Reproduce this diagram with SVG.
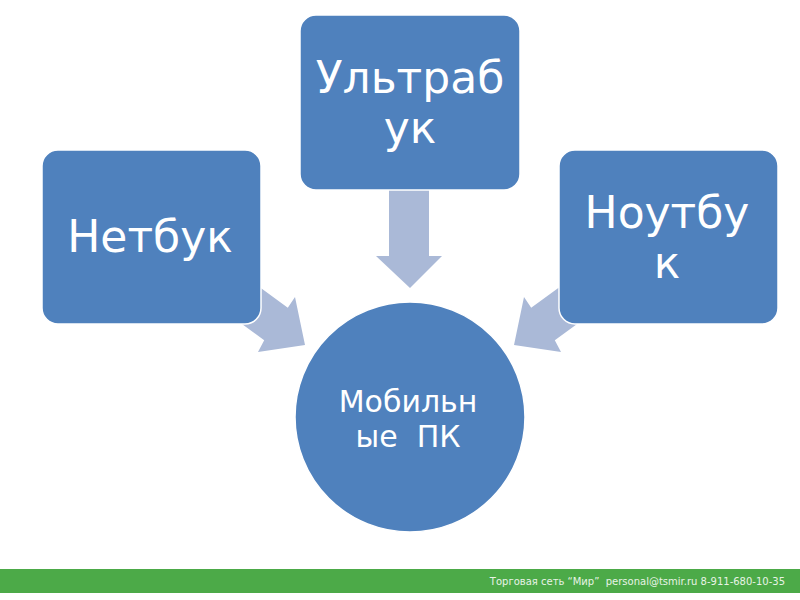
<svg xmlns="http://www.w3.org/2000/svg" width="800" height="600" viewBox="0 0 800 600">
<style>
.box{fill:#4f81bd;stroke:#ffffff;stroke-width:1.5}
.arrow{fill:#aab9d7}
.t{font-family:"DejaVu Sans",Verdana,sans-serif;fill:#ffffff;text-anchor:middle}
.big{font-size:44px}
.mid{font-size:30px}
.foot{font-family:"DejaVu Sans",sans-serif;font-size:10px;fill:#e8f3e6;text-anchor:end}
</style>
<defs>
<polygon id="diag" points="247,278 287.8,307.8 295,297 305,345 258,352 264.2,340.2 223.7,310.8"/>
</defs>
<rect width="800" height="600" fill="#ffffff"/>
<g id="connectors">
<polygon class="arrow" points="389,190 429,190 429,256 442,256 410,288 376,256 389,256"/>
<use href="#diag" class="arrow"/>
<use href="#diag" class="arrow" transform="translate(819,0) scale(-1,1)"/>
</g>
<g id="netbook">
<rect class="box" x="42" y="150" width="219" height="174" rx="16"/>
<text class="t big" x="150" y="252">Нетбук</text>
</g>
<g id="ultrabook">
<rect class="box" x="300" y="15" width="220" height="175" rx="16"/>
<text class="t big" x="410" y="93">Ультраб</text>
<text class="t big" x="410" y="143">ук</text>
</g>
<g id="notebook">
<rect class="box" x="559" y="150" width="219" height="174" rx="16"/>
<text class="t big" x="667" y="228">Ноутбу</text>
<text class="t big" x="667" y="278">к</text>
</g>
<g id="mobile">
<circle class="box" cx="410" cy="417" r="115"/>
<text class="t mid" x="408" y="412">Мобильн</text>
<text class="t mid" x="408" y="447" xml:space="preserve">ые  ПК</text>
</g>
<g id="footer">
<rect x="0" y="569" width="800" height="24" fill="#4caa48"/>
<text class="foot" x="785" y="585" xml:space="preserve">Торговая сеть “Мир”  personal@tsmir.ru 8-911-680-10-35</text>
</g>
</svg>
